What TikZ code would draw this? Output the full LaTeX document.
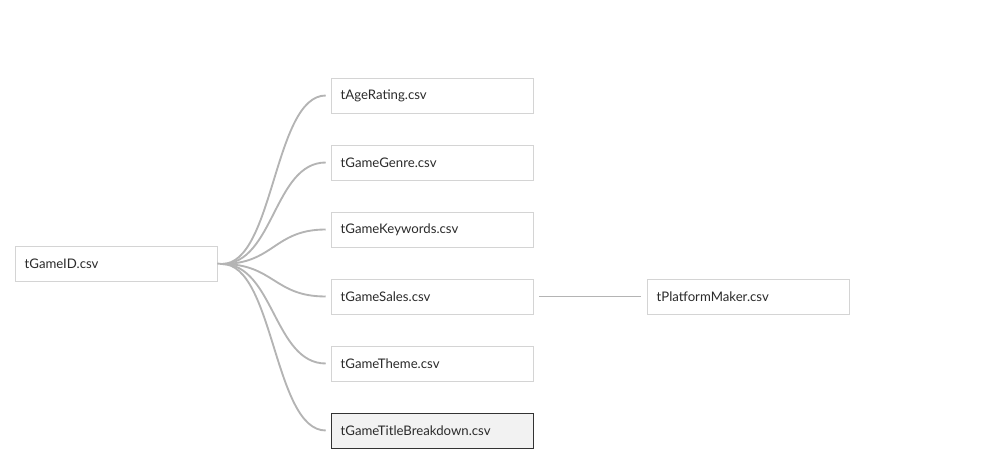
\documentclass[tikz,border=0pt]{standalone}
\usepackage{fontspec}
\setmainfont{Lato}
\usepackage{xcolor}
\usetikzlibrary{positioning,shadows,calc}

\definecolor{edgegray}{HTML}{B4B4B4}
\definecolor{boxline}{HTML}{D4D4D4}
\definecolor{txtgray}{HTML}{2B2B2B}

\tikzset{
  tablebox/.style={draw=boxline,fill=white,minimum width=151.5pt,minimum height=26.25pt,
    text width=137pt,align=left,inner xsep=7.25pt,font=\fontsize{9.9}{11}\selectfont,
    text=txtgray,drop shadow={opacity=0.15,shadow xshift=0.7pt,shadow yshift=-0.7pt}},
  selbox/.style={tablebox,draw=black!80,fill=black!5},
  link/.style={draw=edgegray,line width=1.4pt}
}

\begin{document}
\begin{tikzpicture}[x=0.75pt,y=-0.75pt]
  \useasboundingbox (0,0) rectangle (982,470);
  \node[tablebox] (gameid) at (116,263.5) {tGameID.csv};
  \coordinate (hub) at (222,264);
  \foreach \name/\label/\y in {agerating/tAgeRating/95.5,genre/tGameGenre/162.5,
      keywords/tGameKeywords/229.5,sales/tGameSales/296.5,theme/tGameTheme/363.5} {
    \node[tablebox] (\name) at (432,\y) {\label.csv};
  }
  \node[selbox] (breakdown) at (432,430.5) {tGameTitleBreakdown.csv};
  \node[tablebox] (platform) at (748,296.5) {tPlatformMaker.csv};

  % links from the id table
  \draw[link] (gameid.east) -- (hub);
  \foreach \name in {agerating,genre,keywords,sales,theme,breakdown} {
    \draw[link] (hub) .. controls ($(hub)+(52,0)$) and ($(\name.west)+(-57,0)$) .. ($(\name.west)+(-5,0)$);
  }
  \draw[link] ($(sales.east)+(6,0)$) -- ($(platform.west)+(-6,0)$);
\end{tikzpicture}
\end{document}
